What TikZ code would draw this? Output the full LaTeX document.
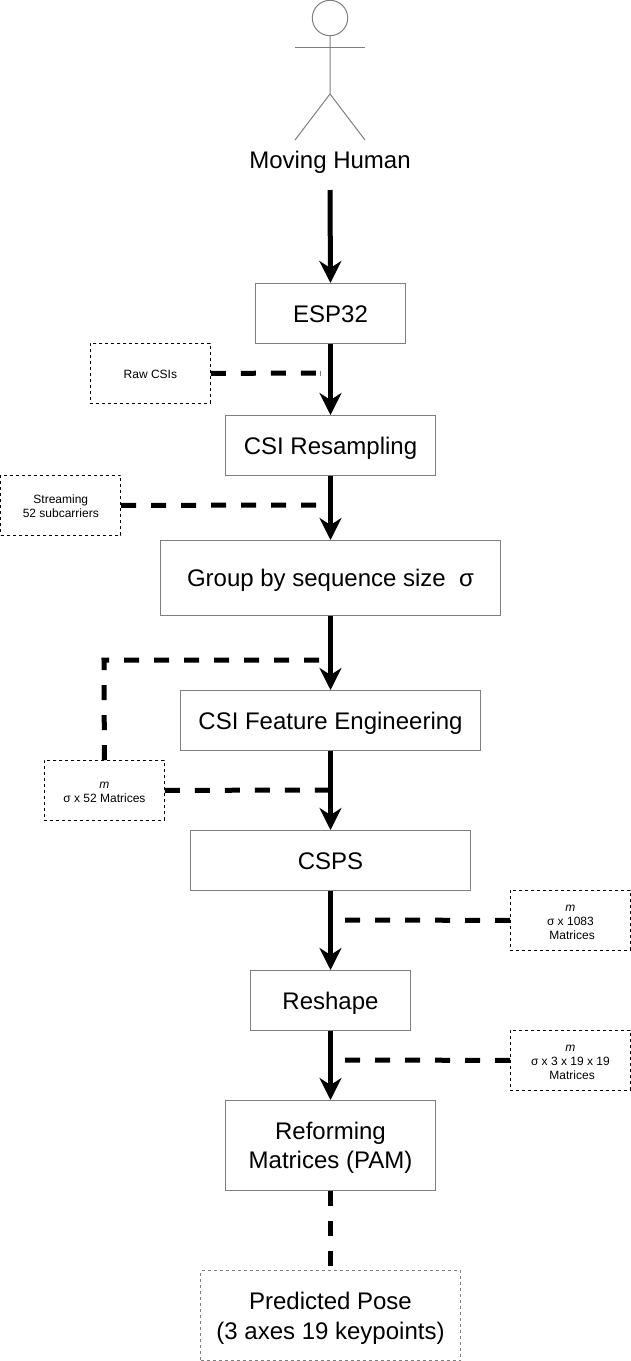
\documentclass[tikz,border=0pt]{standalone}
\usepackage{fontspec}
\setmainfont{Liberation Sans}
\usetikzlibrary{arrows.meta}
\definecolor{edge}{HTML}{7F7F7F}
\newcommand{\bigline}[1]{\raisebox{0pt}[22pt][5pt]{#1}}
\newcommand{\smallline}[1]{\raisebox{-1.4pt}[10pt][3.5pt]{#1}}
\tikzset{
  x=1pt,y=-1pt,
  stepbox/.style={draw=edge,line width=1pt,fill=white,inner sep=0pt,align=center,font=\fontsize{24}{28.5}\selectfont,anchor=north west},
  notebox/.style={draw=black,line width=0.8pt,dash pattern=on 3pt off 3pt,fill=white,inner sep=0pt,align=center,font=\fontsize{12}{14}\selectfont,anchor=north west,minimum width=120pt,minimum height=60pt},
  flow/.style={line width=5pt,-{Stealth[length=22pt,width=22pt,inset=7pt]}},
  link/.style={line width=5pt,dash pattern=on 15pt off 15pt},
  actor/.style={draw=edge,line width=1pt},
}
\newcommand{\stepnode}[6]{\node[stepbox,minimum width=#3pt,minimum height=#4pt] (#1) at (#2,#5) {#6};}
\begin{document}
\begin{tikzpicture}
\useasboundingbox (0,0) rectangle (631,1361);
% actor
\node[actor,circle,minimum size=35.4pt,inner sep=0pt] (head) at (330,18) {};
\coordinate (armL) at (295,47);
\coordinate (armR) at (365,47);
\coordinate (hip) at (330,94);
\coordinate (legL) at (295,140);
\coordinate (legR) at (365,140);
\draw[actor] (head.south) -- (hip) -- (legL);
\draw[actor] (hip) -- (legR);
\draw[actor] (armL) -- (armR);
\node[font=\fontsize{24}{28.5}\selectfont,inner sep=0pt] (human) at (330,160) {\bigline{Moving Human}};
\coordinate (humanEnd) at (330,190);
% steps
\stepnode{esp}{255}{150}{60}{283}{\bigline{ESP32}}
\stepnode{resample}{225}{210}{60}{415}{\bigline{CSI Resampling}}
\stepnode{group}{160}{340}{75}{540}{\bigline{Group by sequence size\ \ σ}}
\stepnode{feature}{180}{300}{60}{690}{\bigline{CSI Feature Engineering}}
\stepnode{csps}{190}{280}{60}{830}{\bigline{CSPS}}
\stepnode{reshape}{250}{160}{60}{970}{\bigline{Reshape}}
\stepnode{reform}{225}{210}{90}{1100}{\bigline{Reforming}\\\bigline{Matrices (PAM)}}
\node[stepbox,draw=edge,dash pattern=on 3pt off 3pt,minimum width=260pt,minimum height=90pt] (pose) at (200,1270) {\bigline{Predicted Pose}\\[1.5pt]\bigline{(3 axes 19 keypoints)}};
% notes
\node[notebox] (raw) at (90,343) {\smallline{Raw CSIs}};
\node[notebox] (stream) at (0.4,475) {\smallline{Streaming}\\\smallline{52 subcarriers}};
\node[notebox] (mats) at (44,760) {\smallline{\textit{m}}\\\smallline{σ x 52 Matrices}};
\node[notebox] (m1083) at (510,890) {\smallline{\textit{m}}\\\smallline{σ x 1083}\\\smallline{\hspace*{3.4pt}Matrices}};
\node[notebox] (m319) at (510,1030) {\smallline{\textit{m}}\\\smallline{σ x 3 x 19 x 19}\\\smallline{\hspace*{3.4pt}Matrices}};
% free ends
\coordinate (rawEnd) at (320,373);
\coordinate (streamEnd) at (330,505);
\coordinate (loopEnd) at (320,660);
\coordinate (loopCorner) at (104,660);
\coordinate (matsEnd) at (330,790);
\coordinate (endA) at (345,920);
\coordinate (endB) at (345,1060);
% flow arrows
\draw[flow] (humanEnd) -- (esp.north);
\draw[flow] (esp.south) -- (resample.north);
\draw[flow] (resample.south) -- (group.north);
\draw[flow] (group.south) -- (feature.north);
\draw[flow] (feature.south) -- (csps.north);
\draw[flow] (csps.south) -- (reshape.north);
\draw[flow] (reshape.south) -- (reform.north);
% dashed links
\draw[link] (raw.east) -- (rawEnd);
\draw[edge,line width=0.6pt] ([yshift=2.5pt]rawEnd) -- ([yshift=-2.5pt]rawEnd);
\draw[link] (stream.east) -- (streamEnd);
\draw[link] (mats.north) -- (loopCorner) -- (loopEnd);
\draw[link] (mats.east) -- (matsEnd);
\draw[link] (m1083.west) -- (endA);
\draw[link] (m319.west) -- (endB);
\draw[link] (reform.south) -- (pose.north);
\end{tikzpicture}
\end{document}
